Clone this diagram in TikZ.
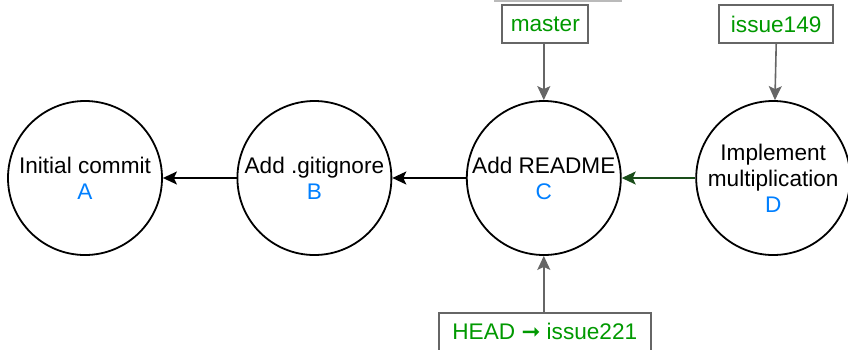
\documentclass[tikz,border=0pt]{standalone}
\usepackage{fontspec}
\setmainfont{Liberation Sans}
\newfontfamily\symfont{DejaVu Sans}
\usetikzlibrary{arrows.meta,positioning}
\definecolor{refgreen}{HTML}{009900}
\definecolor{refblue}{HTML}{007FFF}
\definecolor{refgray}{HTML}{666666}
\definecolor{linkgreen}{HTML}{1A4D1A}
\newcommand{\commitId}[1]{\textcolor{refblue}{#1}}

\begin{document}
\begin{tikzpicture}[x=1pt,y=-1pt]
  \tikzset{commit/.style={circle,draw,line width=1.8pt,minimum size=154pt,inner sep=0pt,
      align=center,font=\fontsize{22.6}{26}\selectfont},
    branch/.style={draw=refgray,line width=1.8pt,fill=white,text=refgreen,
      minimum height=38pt,inner sep=0pt,font=\fontsize{22.6}{26}\selectfont},
    parent/.style={-{Stealth[length=14pt,width=13pt,inset=3pt]},line width=1.6pt},
    pointer/.style={parent,draw=refgray,fill=refgray}}
  \useasboundingbox (0,0) rectangle (848,349);
  \draw[line width=1.5pt,color=black!27] (494,1) -- (622,1);
  % commits
  \node[commit] (A) at (85,178) {Initial commit\\\commitId{A}};
  \node[commit,right=73.6pt of A] (B) {Add .gitignore\\\commitId{B}};
  \node[commit,right=73.6pt of B] (C) {Add README\\\commitId{C}};
  \node[commit,right=73.6pt of C] (D) {Implement\\multiplication\\\commitId{D}};
  % branches
  \node[branch,minimum width=86pt,above=56pt of C,xshift=1.5pt] (master) {master};
  \node[branch,minimum width=114pt,above=56pt of D,xshift=3pt] (issue149) {issue149};
  \node[branch,minimum width=212pt,below=56pt of C,xshift=1pt] (head) {HEAD {\symfont ➞} issue221};
  \draw[parent] (B) -- (A);
  \draw[parent] (C) -- (B);
  \draw[parent,draw=linkgreen,fill=linkgreen] (D) -- (C);
  \draw[pointer] (master.south -| C) -- (C);
  \draw[pointer] (issue149.south) -- (D);
  \draw[pointer] (head.north -| C) -- (C);
\end{tikzpicture}
\end{document}
